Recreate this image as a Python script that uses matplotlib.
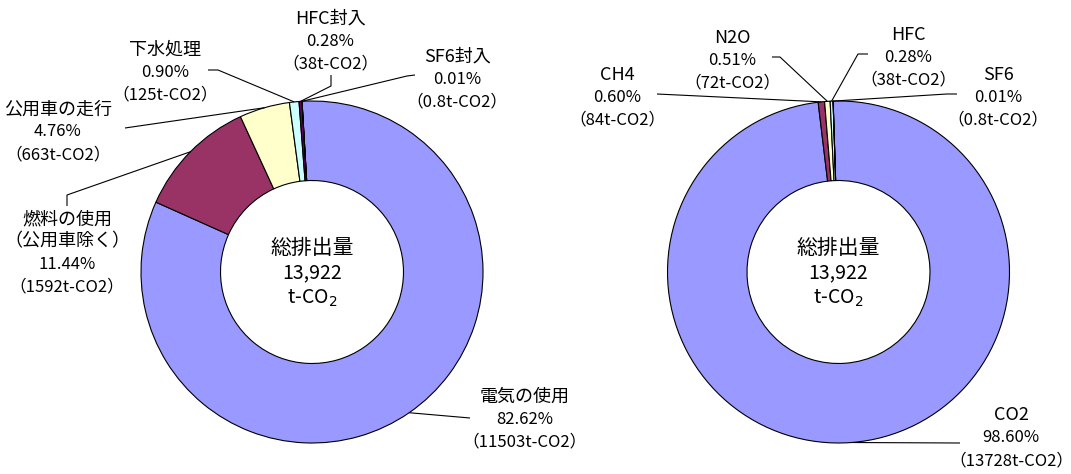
import matplotlib
matplotlib.use("Agg")
import matplotlib.pyplot as plt
import numpy as np

plt.rcParams['font.family'] = ['Noto Sans CJK JP', 'DejaVu Sans']

# ---------------- data ----------------
left_names = [['電気の使用'], ['燃料の使用', '（公用車除く）'], ['公用車の走行'],
              ['下水処理'], ['HFC封入'], ['SF6封入']]
left_tons = [11503, 1592, 663, 125, 38, 0.8]
left_tons_txt = ['11503', '1592', '663', '125', '38', '0.8']
left_pct = ['82.62%', '11.44%', '4.76%', '0.90%', '0.28%', '0.01%']
left_colors = ['#9999FF', '#993366', '#FFFFCC', '#CCFFFF', '#660066', '#FF8080']

right_names = [['CO2'], ['CH4'], ['N2O'], ['HFC'], ['SF6']]
right_tons = [13728, 84, 72, 38, 0.8]
right_tons_txt = ['13728', '84', '72', '38', '0.8']
right_pct = ['98.60%', '0.60%', '0.51%', '0.28%', '0.01%']
right_colors = ['#9999FF', '#993366', '#FFFFCC', '#CCFFFF', '#660066']

center_lines = ['総排出量', '13,922', 't-CO$_2$']

# ---------------- layout (pixels) ----------------
W, H = 1071, 474
R_OUT = 171
HOLE = 0.535
left_center = (312, 272)
right_center = (838.5, 272)
left_start = 93.35
right_start = 91.8

left_label_pos = [(525, 419), (67, 253), (58, 132), (165, 72), (330, 41), (457, 79)]
left_leader = [[(470, 418)], [(67, 206), (67, 195)], [(125, 128)],
               [(208, 70), (218, 70)], [(331, 75), (331, 86)], [(415, 75), (407, 76)]]
right_label_pos = [(1011, 438), (617, 97), (732, 60), (908, 57), (998, 97)]
right_leader = [[(960, 443)], [(657, 94)], [(772, 57), (780, 57)],
                [(868, 54), (858, 54)], [(957, 94), (947, 94)]]

LINE_PITCH = 22.5
FS_NAME = 13
FS_NUM = 12

fig = plt.figure(figsize=(W / 100, H / 100), dpi=100)
fig.patch.set_facecolor('white')

overlay = fig.add_axes([0, 0, 1, 1], zorder=5)
overlay.set_xlim(0, W)
overlay.set_ylim(H, 0)
overlay.axis('off')
overlay.patch.set_alpha(0)


def draw_donut(center, start, tons, colors, names, pct, tons_txt, label_pos, leaders):
    cx, cy = center
    ax = fig.add_axes([(cx - R_OUT) / W, (H - cy - R_OUT) / H, 2 * R_OUT / W, 2 * R_OUT / H])
    wedges, _ = ax.pie(tons, colors=colors, startangle=start, counterclock=False,
                       radius=1.0,
                       wedgeprops=dict(width=1 - HOLE, edgecolor='black', linewidth=0.8))
    ax.set_xlim(-1.0, 1.0)
    ax.set_ylim(-1.0, 1.0)
    ax.set_aspect('auto')
    ax.axis('off')

    inv = overlay.transData.inverted()
    for w, nm, p, t, (lx, ly), lead in zip(wedges, names, pct, tons_txt, label_pos, leaders):
        mid = np.deg2rad((w.theta1 + w.theta2) / 2)
        disp = ax.transData.transform((np.cos(mid), np.sin(mid)))
        px, py = inv.transform(disp)
        xs = [p_[0] for p_ in lead] + [px]
        ys = [p_[1] for p_ in lead] + [py]
        overlay.plot(xs, ys, color='black', lw=0.8, solid_capstyle='butt')
        lines = nm + [p, '（' + t + 't-CO2）']
        sizes = [FS_NAME] * len(nm) + [FS_NUM, FS_NUM]
        n = len(lines)
        for i, (s, fs) in enumerate(zip(lines, sizes)):
            y = ly + (i - (n - 1) / 2) * LINE_PITCH
            overlay.text(lx, y, s, ha='center', va='center', fontsize=fs, color='black')

    sizes_c = [15, 14, 14]
    for i, s in enumerate(center_lines):
        overlay.text(cx, cy - 24 + i * 25, s, ha='center', va='center', fontsize=sizes_c[i],
                     color='black')


draw_donut(left_center, left_start, left_tons, left_colors, left_names, left_pct,
           left_tons_txt, left_label_pos, left_leader)
draw_donut(right_center, right_start, right_tons, right_colors, right_names, right_pct,
           right_tons_txt, right_label_pos, right_leader)

fig.savefig('out.png', dpi=100, facecolor='white')
